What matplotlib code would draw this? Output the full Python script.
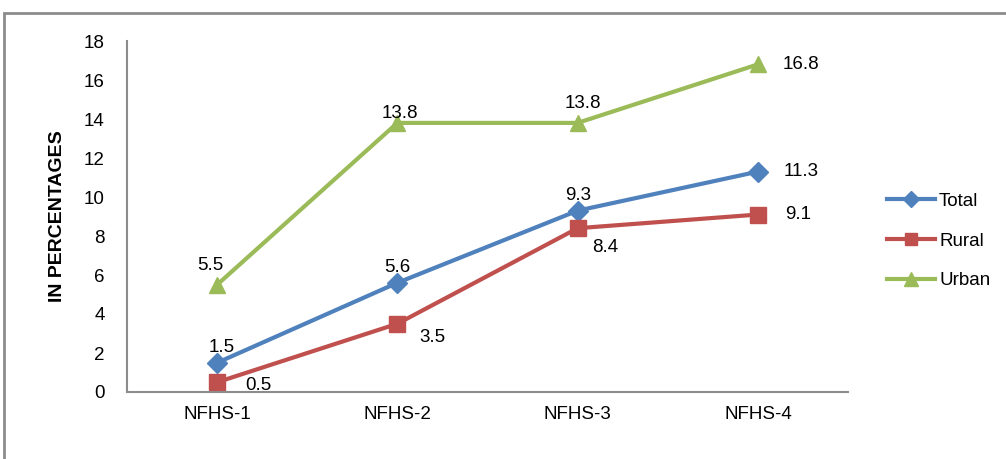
import matplotlib.pyplot as plt
from matplotlib.patches import Rectangle

plt.rcParams['font.family'] = ['Liberation Sans', 'DejaVu Sans']

# data
rounds = ['NFHS-1', 'NFHS-2', 'NFHS-3', 'NFHS-4']
total = [1.5, 5.6, 9.3, 11.3]
rural = [0.5, 3.5, 8.4, 9.1]
urban = [5.5, 13.8, 13.8, 16.8]

# label offsets (points) for each value
total_off = [(3, 11), (0, 11), (0, 11), (31, 0)]
rural_off = [(30, -2), (25, -10), (20, -14), (29, 0)]
urban_off = [(-5, 14), (2, 7), (4, 14), (31, 0)]

fig = plt.figure(figsize=(10.06, 4.59), dpi=100)
ax = fig.add_axes([127 / 1006, 1 - 392 / 459, (848 - 127) / 1006, (392 - 41) / 459])

# outer frame of the chart area
fig.patches.append(Rectangle((4 / 1006, -0.05), 1.2, 1 - 13 / 459 + 0.05,
                             transform=fig.transFigure, fill=False,
                             edgecolor='#8c8c8c', linewidth=2))

x = [i + 0.5 for i in range(len(rounds))]
series = [
    ('Total', total, '#4F81BD', 'D', 10, total_off),
    ('Rural', rural, '#C0504D', 's', 11, rural_off),
    ('Urban', urban, '#9BBB59', '^', 12, urban_off),
]
for name, vals, col, mk, ms, offs in series:
    ax.plot(x, vals, color=col, marker=mk, markersize=ms, linewidth=3, label=name)
    for xi, v, o in zip(x, vals, offs):
        ax.annotate('%.1f' % v, (xi, v), xytext=o, textcoords='offset points',
                    ha='center', va='center', fontsize=13.5)

ax.set_xlim(0, 4)
ax.set_ylim(0, 18)
ax.set_yticks(range(0, 19, 2))
ax.set_xticks(x)
ax.set_xticklabels(rounds)
ax.tick_params(length=0, labelsize=13.5, pad=10)
ax.tick_params(axis='y', pad=16)
for s in ['top', 'right']:
    ax.spines[s].set_visible(False)
for s in ['left', 'bottom']:
    ax.spines[s].set_color('#8c8c8c')
    ax.spines[s].set_linewidth(1.5)

ax.set_ylabel('IN PERCENTAGES', fontsize=14, fontweight='bold', labelpad=13)

leg = ax.legend(loc='center left', bbox_to_anchor=(1.03, 0.43), frameon=False,
                fontsize=13.5, handlelength=2.6, handletextpad=0.2, labelspacing=1.2,
                markerscale=0.85)

fig.savefig('out.png', dpi=100)
